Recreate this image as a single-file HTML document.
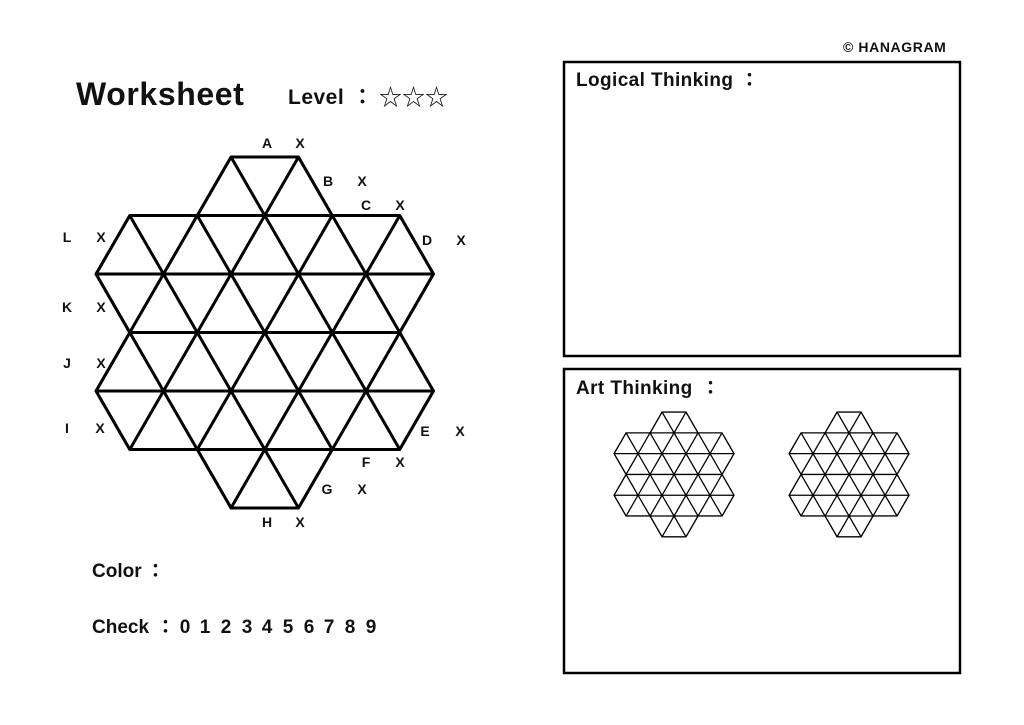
<!DOCTYPE html>
<html><head><meta charset="utf-8"><style>
html,body{margin:0;padding:0;background:#fff;}
svg{display:block;}
text{font-family:"Liberation Sans","Noto Sans CJK JP",sans-serif;font-weight:bold;fill:#111;}
</style></head><body>
<svg width="1024" height="725" viewBox="0 0 1024 725" xmlns="http://www.w3.org/2000/svg">
<defs>
<clipPath id="hc"><polygon points="231,157 298.5,157 332.25,215.5 399.75,215.5 433.5,274 399.75,332.5 433.5,391 399.75,449.5 332.25,449.5 298.5,508 231,508 197.25,449.5 129.75,449.5 96,391 129.75,332.5 96,274 129.75,215.5 197.25,215.5"/></clipPath>
<g id="grid">
<g clip-path="url(#hc)" stroke="#000" fill="none">
<path d="M80 157H450M80 215.5H450M80 274H450M80 332.5H450M80 391H450M80 449.5H450M80 508H450
M-39 157l202.5 351M28.5 157l202.5 351M96 157l202.5 351M163.5 157l202.5 351M231 157l202.5 351M298.5 157l202.5 351M366 157l202.5 351M433.5 157l202.5 351M-106.5 157l202.5 351M-174 157l202.5 351
M96 157l-202.5 351M163.5 157l-202.5 351M231 157l-202.5 351M298.5 157l-202.5 351M366 157l-202.5 351M433.5 157l-202.5 351M501 157l-202.5 351M568.5 157l-202.5 351M636 157l-202.5 351"/>
</g>
<polygon fill="none" stroke="#000" points="231,157 298.5,157 332.25,215.5 399.75,215.5 433.5,274 399.75,332.5 433.5,391 399.75,449.5 332.25,449.5 298.5,508 231,508 197.25,449.5 129.75,449.5 96,391 129.75,332.5 96,274 129.75,215.5 197.25,215.5"/>
</g>
</defs>
<g stroke-width="3" stroke-linejoin="round"><use href="#grid"/></g>
<g transform="translate(579.9,356.2) scale(0.3556)" stroke-width="3.6"><use href="#grid"/></g>
<g transform="translate(754.9,356.2) scale(0.3556)" stroke-width="3.6"><use href="#grid"/></g>

<text x="76" y="105" font-size="32" letter-spacing="0.6">Worksheet</text>
<text x="288" y="104" font-size="21" letter-spacing="0.5">Level</text>
<text x="352" y="104" font-size="21">：</text>
<text x="379" y="105" font-size="23" style="font-weight:normal">☆☆☆</text>
<text x="843" y="52" font-size="14" letter-spacing="0.6">© HANAGRAM</text>

<g font-size="14" text-anchor="middle">
<text x="267" y="148">A</text><text x="300" y="148">X</text>
<text x="328" y="186">B</text><text x="362" y="186">X</text>
<text x="366" y="210">C</text><text x="400" y="210">X</text>
<text x="67" y="242">L</text><text x="101" y="242">X</text>
<text x="427" y="245">D</text><text x="461" y="245">X</text>
<text x="67" y="312">K</text><text x="101" y="312">X</text>
<text x="67" y="368">J</text><text x="101" y="368">X</text>
<text x="67" y="433">I</text><text x="100" y="433">X</text>
<text x="425" y="436">E</text><text x="460" y="436">X</text>
<text x="366" y="467">F</text><text x="400" y="467">X</text>
<text x="327" y="494">G</text><text x="362" y="494">X</text>
<text x="267" y="527">H</text><text x="300" y="527">X</text>
</g>

<text x="92" y="577" font-size="19">Color</text>
<text x="146" y="577" font-size="19">：</text>
<text x="92" y="633" font-size="19">Check</text>
<text x="156" y="633" font-size="19">：</text>
<g font-size="19" text-anchor="middle">
<text x="185" y="633">0</text><text x="205" y="633">1</text><text x="226" y="633">2</text><text x="247" y="633">3</text><text x="267" y="633">4</text><text x="288" y="633">5</text><text x="309" y="633">6</text><text x="329" y="633">7</text><text x="350" y="633">8</text><text x="371" y="633">9</text>
</g>

<rect x="564" y="62" width="396" height="294" fill="none" stroke="#000" stroke-width="2.5"/>
<rect x="564" y="369" width="396" height="304" fill="none" stroke="#000" stroke-width="2.5"/>
<text x="576" y="86" font-size="19" letter-spacing="0.4">Logical Thinking</text>
<text x="740" y="86" font-size="19">：</text>
<text x="576" y="394" font-size="19" letter-spacing="0.4">Art Thinking</text>
<text x="701" y="394" font-size="19">：</text>
</svg>
</body></html>
